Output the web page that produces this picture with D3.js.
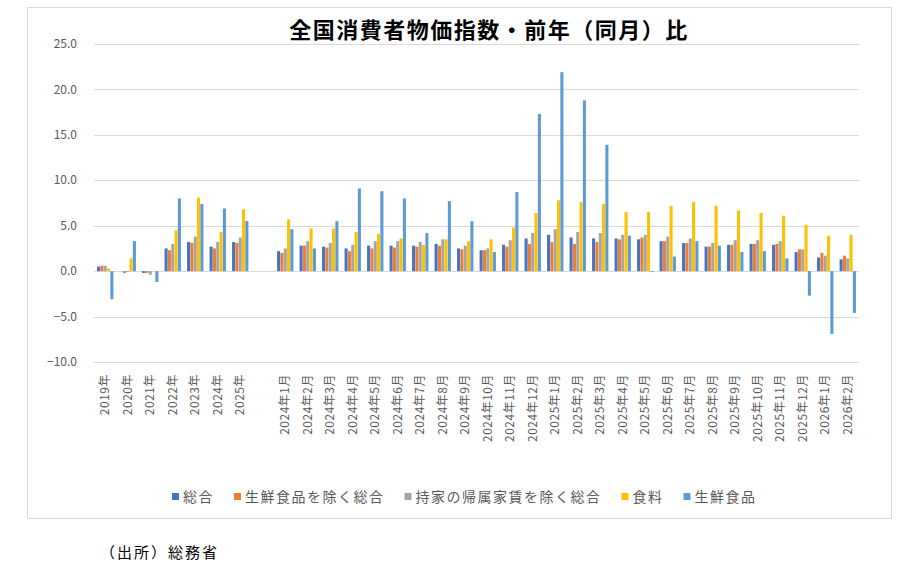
<!DOCTYPE html>
<html>
<head>
<meta charset="utf-8">
<script src="https://cdn.jsdelivr.net/npm/d3@7"></script>
<style>
  body { margin: 0; background: #fff; font-family: "Noto Sans CJK JP", "Noto Sans", sans-serif; }
  svg text { font-family: "Noto Sans CJK JP", "Noto Sans", sans-serif; }
</style>
</head>
<body>
<div id="chart"></div>
<script>
// ---------- data ----------
var categories = ["2019年", "2020年", "2021年", "2022年", "2023年", "2024年", "2025年", " ",
    "2024年1月", "2024年2月", "2024年3月", "2024年4月", "2024年5月", "2024年6月", "2024年7月", "2024年8月",
    "2024年9月", "2024年10月", "2024年11月", "2024年12月",
    "2025年1月", "2025年2月", "2025年3月", "2025年4月", "2025年5月", "2025年6月", "2025年7月", "2025年8月",
    "2025年9月", "2025年10月", "2025年11月", "2025年12月", "2026年1月", "2026年2月"];

var seriesNames = ["総合", "生鮮食品を除く総合", "持家の帰属家賃を除く総合", "食料", "生鮮食品"];
var seriesColors = ["#4472c4", "#ed7d31", "#a5a5a5", "#ffc000", "#5b9bd5"];

var sogo = [0.5, 0.0, -0.2, 2.5, 3.2, 2.7, 3.2, null,
    2.2, 2.8, 2.7, 2.5, 2.8, 2.8, 2.8, 3.0, 2.5, 2.3, 2.9, 3.6,
    4.0, 3.7, 3.6, 3.6, 3.5, 3.3, 3.1, 2.7, 2.9, 3.0, 2.9, 2.1, 1.5, 1.3];
var core = [0.6, -0.2, -0.2, 2.3, 3.1, 2.5, 3.1, null,
    2.0, 2.8, 2.6, 2.2, 2.5, 2.6, 2.7, 2.8, 2.4, 2.3, 2.7, 3.0,
    3.2, 3.0, 3.2, 3.5, 3.7, 3.3, 3.1, 2.7, 2.9, 3.0, 3.0, 2.4, 2.0, 1.7];
var exRent = [0.6, -0.1, -0.4, 3.0, 3.8, 3.2, 3.7, null,
    2.5, 3.3, 3.1, 2.9, 3.3, 3.3, 3.2, 3.5, 2.8, 2.5, 3.4, 4.2,
    4.6, 4.3, 4.2, 4.0, 4.0, 3.8, 3.6, 3.1, 3.4, 3.4, 3.3, 2.4, 1.7, 1.4];
var food = [0.3, 1.4, 0.0, 4.5, 8.1, 4.3, 6.8, null,
    5.7, 4.7, 4.7, 4.3, 4.1, 3.6, 2.9, 3.5, 3.3, 3.5, 4.8, 6.4,
    7.8, 7.6, 7.4, 6.5, 6.5, 7.2, 7.6, 7.2, 6.7, 6.4, 6.1, 5.1, 3.9, 4.0];
var freshFood = [-3.1, 3.3, -1.2, 8.0, 7.4, 6.9, 5.5, null,
    4.6, 2.5, 5.5, 9.1, 8.8, 8.0, 4.2, 7.7, 5.5, 2.1, 8.7, 17.3,
    21.9, 18.8, 13.9, 3.9, -0.1, 1.6, 3.3, 2.8, 2.1, 2.2, 1.4, -2.7, -6.9, -4.6];

var yTicks = [25, 20, 15, 10, 5, 0, -5, -10];

// ---------- layout ----------
var W = 923, H = 569;
var plot = { left: 94, right: 859, top: 44, bottom: 362 };
var seriesValues = [sogo, core, exRent, food, freshFood];

var rows = categories.map(function (c, i) {
    return { cat: c, vals: seriesValues.map(function (s, k) { return { k: k, v: s[i] }; }) };
});

var svg = d3.select("#chart").append("svg")
    .attr("width", W)
    .attr("height", H);

// frame
svg.append("rect")
    .attr("x", 27.5).attr("y", 7.5)
    .attr("width", 864).attr("height", 511)
    .attr("fill", "#fff")
    .attr("stroke", "#d9d9d9");

var x0 = d3.scaleBand()
    .domain(categories)
    .range([plot.left, plot.right])
    .paddingInner(0.25)
    .paddingOuter(0.125);
var x1 = d3.scaleBand()
    .domain(d3.range(seriesNames.length))
    .range([0, x0.bandwidth()])
    .padding(0.08);
var y = d3.scaleLinear()
    .domain([-10, 25])
    .range([plot.bottom, plot.top]);

// grid
svg.append("g").selectAll("line")
    .data(yTicks)
    .enter().append("line")
    .attr("x1", plot.left).attr("x2", plot.right)
    .attr("y1", function (d) { return Math.round(y(d)) + 0.5; })
    .attr("y2", function (d) { return Math.round(y(d)) + 0.5; })
    .attr("stroke", "#d9d9d9")
    .attr("stroke-width", 1);

// y labels
svg.append("g").selectAll("text")
    .data(yTicks)
    .enter().append("text")
    .attr("x", 77)
    .attr("y", function (d) { return y(d); })
    .attr("dy", "0.35em")
    .attr("text-anchor", "end")
    .attr("font-size", 12)
    .attr("fill", "#595959")
    .text(d3.format(".1f"));

// bars
var groups = svg.append("g").selectAll("g")
    .data(rows)
    .enter().append("g")
    .attr("transform", function (d) { return "translate(" + x0(d.cat) + ",0)"; });

groups.selectAll("rect")
    .data(function (d) { return d.vals.filter(function (e) { return e.v !== null; }); })
    .enter().append("rect")
    .attr("x", function (d) { return x1(d.k); })
    .attr("width", x1.bandwidth())
    .attr("y", function (d) { return y(Math.max(0, d.v)); })
    .attr("height", function (d) { return Math.abs(y(d.v) - y(0)); })
    .attr("fill", function (d) { return seriesColors[d.k]; });

// x labels (rotated)
svg.append("g").selectAll("text")
    .data(categories)
    .enter().append("text")
    .attr("transform", function (d) {
        return "translate(" + (x0(d) + x0.bandwidth() / 2) + ",374) rotate(-90)";
    })
    .attr("dy", "0.35em")
    .attr("text-anchor", "end")
    .attr("font-size", 12)
    .attr("letter-spacing", 0.5)
    .attr("fill", "#595959")
    .text(function (d) { return d; });

// title
svg.append("text")
    .attr("x", 489)
    .attr("y", 30)
    .attr("dy", "0.35em")
    .attr("text-anchor", "middle")
    .attr("font-size", 22)
    .attr("font-weight", "bold")
    .attr("letter-spacing", 1.5)
    .attr("fill", "#000")
    .text("全国消費者物価指数・前年（同月）比");

// legend
var legend = svg.append("g");
var lx = 172;
seriesNames.forEach(function (name, k) {
    legend.append("rect")
        .attr("x", lx).attr("y", 493)
        .attr("width", 7).attr("height", 7)
        .attr("fill", seriesColors[k]);
    var t = legend.append("text")
        .attr("x", lx + 11)
        .attr("y", 497)
        .attr("dy", "0.35em")
        .attr("font-size", 14)
        .attr("letter-spacing", 1.5)
        .attr("fill", "#595959")
        .text(name);
    lx += 11 + t.node().getComputedTextLength() + 20;
});

// source note
svg.append("text")
    .attr("x", 100)
    .attr("y", 553)
    .attr("dy", "0.35em")
    .attr("font-size", 15)
    .attr("letter-spacing", 2)
    .attr("fill", "#000")
    .text("（出所）総務省");
</script>
</body>
</html>
